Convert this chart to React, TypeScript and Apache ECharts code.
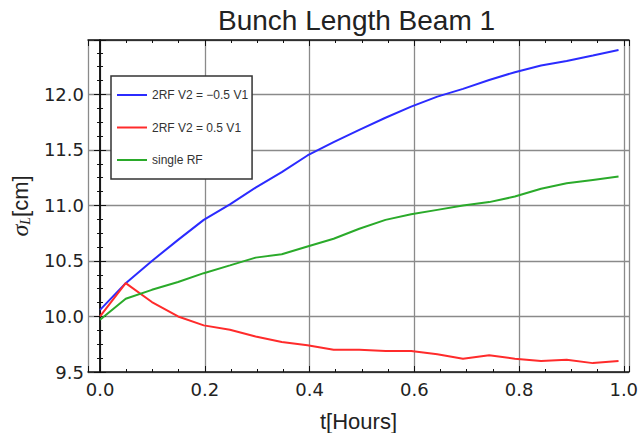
import React, { useEffect, useRef } from "react";
import * as echarts from "echarts";

const tHours = [0, 0.049, 0.099, 0.149, 0.198, 0.248, 0.297, 0.347, 0.396, 0.446, 0.495, 0.545, 0.594, 0.644, 0.693, 0.743, 0.792, 0.842, 0.891, 0.941, 0.99];
const blueMinus = [10.06, 10.30, 10.50, 10.69, 10.87, 11.01, 11.16, 11.30, 11.45, 11.57, 11.68, 11.79, 11.89, 11.98, 12.05, 12.13, 12.20, 12.26, 12.30, 12.35, 12.40];
const redPlus = [10.00, 10.30, 10.13, 10.00, 9.92, 9.88, 9.82, 9.77, 9.74, 9.70, 9.70, 9.69, 9.69, 9.66, 9.62, 9.65, 9.62, 9.60, 9.61, 9.58, 9.60];
const greenSingle = [9.97, 10.16, 10.24, 10.31, 10.39, 10.46, 10.53, 10.56, 10.63, 10.70, 10.79, 10.87, 10.92, 10.96, 11.00, 11.03, 11.08, 11.15, 11.20, 11.23, 11.26];
const seriesNames = ["2RF V2 = \u22120.5 V1", "2RF V2 = 0.5 V1", "single RF"];
const seriesColors = ["#2b2bff", "#ff2b2b", "#2aaa2a"];
const xRange = [-0.023, 1.01];
const yRange = [9.5, 12.49];

const pairs = (ys: number[]) => tHours.map((t, i) => [t, ys[i]]);

export default function App() {
  const ref = useRef<HTMLDivElement>(null);
  useEffect(() => {
    if (!ref.current) return;
    const chart = echarts.init(ref.current, null, { renderer: "svg" });
    const tickFont = { fontFamily: "DejaVu Sans", fontSize: 18, color: "#222" };
    const common = {
      axisLine: { show: true, lineStyle: { color: "#111", width: 1.5 } },
      axisTick: { show: true, inside: true, length: 6, lineStyle: { color: "#111", width: 1 } },
      minorTick: { show: true, splitNumber: 4, length: 3, lineStyle: { color: "#111", width: 1 } },
    };
    const option: any = {
      animation: false,
      backgroundColor: "#fff",
      title: {
        text: "Bunch Length Beam 1",
        left: 218,
        top: 6,
        padding: 0,
        textStyle: { fontFamily: "Liberation Sans", fontSize: 28, fontWeight: "normal", color: "#222" },
      },
      grid: { left: 88, right: 14, top: 40, bottom: 61, containLabel: false, outerBoundsMode: "none" },
      legend: {
        orient: "vertical",
        left: 111,
        top: 76,
        padding: [12, 4, 12, 6],
        itemGap: 18.5,
        itemWidth: 30,
        itemHeight: 2,
        icon: "rect",
        backgroundColor: "#fff",
        borderColor: "#333",
        borderWidth: 1.5,
        textStyle: { fontFamily: "Liberation Sans", fontSize: 12, color: "#333", lineHeight: 14 },
        data: seriesNames,
      },
      xAxis: [
        {
          type: "value",
          min: xRange[0],
          max: xRange[1],
          splitNumber: 5,
          position: "bottom",
          name: "t[Hours]",
          nameLocation: "middle",
          nameGap: 38,
          nameTextStyle: { fontFamily: "Liberation Sans", fontSize: 22, color: "#222" },
          ...common,
          axisLabel: { ...tickFont, margin: 8, showMinLabel: false, showMaxLabel: false, formatter: (v: number) => v.toFixed(1) },
          splitLine: { show: true, lineStyle: { color: "#8a8a8a", width: 1.3 } },
        },
        {
          type: "value",
          min: xRange[0],
          max: xRange[1],
          splitNumber: 5,
          position: "top",
          ...common,
          axisLabel: { show: false },
          splitLine: { show: false },
        },
      ],
      yAxis: [
        {
          type: "value",
          min: yRange[0],
          max: yRange[1],
          splitNumber: 5,
          position: "left",
          name: "{s|\u03c3}{sub|L}[cm]",
          nameLocation: "middle",
          nameGap: 56,
          nameRotate: 90,
          nameTextStyle: {
            fontFamily: "Liberation Sans",
            fontSize: 22,
            color: "#222",
            rich: {
              s: { fontFamily: "Liberation Serif", fontStyle: "italic", fontSize: 24, color: "#222" },
              sub: { fontFamily: "Liberation Serif", fontStyle: "italic", fontSize: 14, color: "#222", verticalAlign: "bottom", padding: [8, 0, 0, 0] },
            },
          },
          ...common,
          axisLabel: { ...tickFont, margin: 4, showMaxLabel: false, formatter: (v: number) => v.toFixed(1) },
          splitLine: { show: true, lineStyle: { color: "#8a8a8a", width: 1.3 } },
        },
        {
          type: "value",
          min: yRange[0],
          max: yRange[1],
          splitNumber: 5,
          position: "right",
          ...common,
          axisLabel: { show: false },
          splitLine: { show: false },
        },
      ],
      series: [blueMinus, redPlus, greenSingle].map((ys, i) => ({
        type: "line",
        name: seriesNames[i],
        data: pairs(ys),
        xAxisIndex: 0,
        yAxisIndex: 0,
        showSymbol: false,
        symbol: "none",
        lineStyle: { color: seriesColors[i], width: 2 },
        itemStyle: { color: seriesColors[i] },
      })),
    };
    chart.setOption(option);
    return () => chart.dispose();
  }, []);
  return <div ref={ref} style={{ position: "fixed", left: 0, top: 0, width: 643, height: 433 }} />;
}
